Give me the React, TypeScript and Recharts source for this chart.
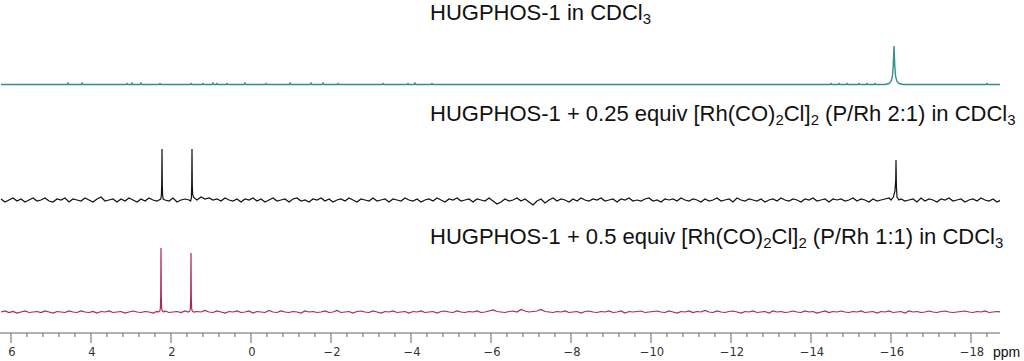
import React from "react";
import { LineChart, Line, XAxis, YAxis } from "recharts";

// chemical shift grid for the noisy baselines (ppm), 0.1 ppm apart
const GRID_START = 6.25;
const GRID_STEP = 0.1;

// baseline noise (intensity units ~ px)
const blackNoise = [
  1, -2, 0, 2, -1, 1, -2, 0, 2, -1,
  0, 2, -1, -2, 1, 0, 2, -2, 1, 0,
  -1, 2, 0, -2, 1, 3, -1, 0, 1, -2,
  1, -1, 2, 0, -2, 1, -1, 2, 0, -1,
  1, 0, -1, 2, -2, 0, 1, -1, -2, 0,
  3, 1, 2, 0, 1, -1, 2, 0, -1, 1,
  -2, 1, 0, 2, -1, 1, -2, 0, 2, -1,
  0, 1, -2, 1, 2, -1, 0, -2, 1, 0,
  2, -1, 1, -2, 0, 1, -1, 2, 0, -2,
  1, 0, -1, 2, -1, 0, 1, -2, 1, 0,
  -1, 2, 0, -1, 1, -2, 0, 1, -1, 2,
  0, -2, 1, 0, 2, -1, 0, 1, -2, 1,
  0, -1, 2, -1, -4, -2, 1, -1, 0, 2,
  -1, 1, -2, -5, -1, 1, -3, 0, 2, -1,
  1, 0, -2, 1, -1, 2, 0, -1, 1, 0,
  2, -1, 0, 1, -2, 1, 0, 2, -1, 0,
  -1, 1, 2, -1, 0, -2, 1, 0, 1, -1,
  2, 0, -1, 1, 0, -2, 1, -1, 0, 2,
  -1, 0, 1, -2, 2, 0, -1, 1, 0, -1,
  1, -2, 0, 1, -1, 2, 0, -1, 1, 0,
  -2, 1, 0, 2, -1, 0, 1, -2, 1, 0,
  1, -1, 0, 2, -1, 1, 0, -2, 1, -1,
  0, 1, 2, -1, 0, 1, -1, 0, 1, -2,
  2, -1, 1, 0, -2, 1, 0, 2, -1, 0,
  1, -2, 0, 1, -1, 2, 0, -1, 1, -2, 0,
];

const redNoise = [
  0, 1, -0.5, 0.5, -1, 0, 1, -0.5, 0, 0.5,
  -0.5, 1, 0, -1, 0.5, 0, -0.5, 1, 0, -0.5,
  1, 0, -0.5, 0.5, -1, 0.5, 0, 1, -0.5, 0,
  0.5, -1, 0, 1, 0, -0.5, 0.5, 0, -1, 0.5,
  0, 1, -0.5, 0, 0.5, -0.5, 1, 0, -1, 0.5,
  0, 1.5, 0, -0.5, 1, 0, -1, 0.5, 0, 1,
  -0.5, 0, 1, -1, 0.5, 0, -0.5, 1.5, 0, -0.5,
  1, 0, -0.5, 0.5, 0, -1, 1, 0, 0.5, -0.5,
  0, 1, -0.5, 0, 1.5, -0.5, 0, 0.5, -1, 0.5,
  1, 0, -0.5, 1, 0, -1, 0.5, 0, 1, -0.5,
  0, 0.5, -1, 0.5, 0, 1, -0.5, 0, 0.5, -1,
  0.5, 1, 0, -0.5, 1, 0, -0.5, 0.5, 0, 1,
  -0.5, 0, 1, 2, 0.5, 0, -0.5, 0.5, 1, 0,
  2.5, 1, 0, 0.5, 1, 2.5, 0.5, 0, -0.5, 0.5,
  0, 1, -0.5, 0, 0.5, -1, 0.5, 1, 0, -0.5,
  0.5, 0, 1, -0.5, 0, 1, -1, 0.5, 0, 0.5,
  1, -0.5, 0, 0.5, 1, 0, -0.5, 1, 0, -1,
  0.5, 0, 1, -0.5, 0.5, 0, 1.5, 0, -0.5, 1,
  0, -0.5, 0.5, 1, 0, -1, 0.5, 0, 1, -0.5,
  0, 0.5, -1, 1, 0, 0.5, -0.5, 0, 1, 0,
  -0.5, 1, 0, 0.5, -1, 0, 1, -0.5, 0.5, 0,
  1, 0, -0.5, 0.5, 0, 1, -0.5, 0, 0.5, -1,
  0.5, 0, 1, -0.5, 0, 0.5, -1, 1, 0, 0.5,
  -0.5, 0, 1, 0, -0.5, 0.5, 1, 0, -0.5, 0,
  0.5, 1, 0, -0.5, 0.5, 0, 1, -0.5, 0, 0.5, 0,
];

// the free ligand trace is nearly flat: a few tiny spikes [ppm, height]
const tealSpikes: [number, number][] = [
  [4.575, 1.5], [4.225, 1.5], [3.1, 1], [2.975, 1.5], [2.75, 1.5], [2.275, 1],
  [1.5, 1], [1.2, 1], [0.95, 1.5], [0.85, 1], [0.6, 1], [0.15, 1.5],
  [-0.375, 1], [-0.975, 1.5], [-1.5, 1.5], [-1.8, 1.5], [-2.175, 1],
  [-3.3, 1], [-3.925, 1], [-4.1, 1.5], [-4.525, 1],
  [-14.5, 1], [-14.7, 1], [-14.9, 1], [-15.2, 1], [-15.4, 1], [-15.6, 1],
  [-18.4, 1],
];

// peaks, one array per signal: [ppm, intensity]
const tealPeak: [number, number][] = [
  [-15.85, 0], [-15.95, 1], [-16.0, 3], [-16.035, 8], [-16.055, 18],
  [-16.075, 38.5], [-16.095, 18], [-16.115, 8], [-16.15, 3], [-16.2, 1], [-16.3, 0],
];
const blackPeakA: [number, number][] = [
  [2.3, 0], [2.255, 1], [2.24, 5], [2.232, 16], [2.225, 51], [2.218, 16], [2.21, 5], [2.195, 1], [2.15, 0],
];
const blackPeakB: [number, number][] = [
  [1.55, 0], [1.51, -1], [1.49, 2], [1.482, 16], [1.475, 51], [1.468, 16], [1.46, 6], [1.44, 3], [1.4, 1.5],
];
const blackPeakC: [number, number][] = [
  [-16.0, 0], [-16.06, 3], [-16.1, 9], [-16.118, 20], [-16.125, 40], [-16.135, 14], [-16.15, 3], [-16.2, 0],
];
const redPeakA: [number, number][] = [
  [2.32, 0], [2.28, 1], [2.265, 4], [2.257, 16], [2.25, 64], [2.243, 16], [2.235, 4], [2.22, 1], [2.18, 0],
];
const redPeakB: [number, number][] = [
  [1.57, 0], [1.53, 1], [1.515, 4], [1.507, 15], [1.5, 59], [1.493, 15], [1.485, 4], [1.47, 1], [1.43, 0],
];

// axis
const X_MIN = -18.725;
const X_MAX = 6.275;
const majorTicks = [6, 4, 2, 0, -2, -4, -6, -8, -10, -12, -14, -16, -18];
const minorTicks = [
  5.6, 5.2, 4.8, 4.4, 3.6, 3.2, 2.8, 2.4, 1.6, 1.2, 0.8, 0.4,
  -0.4, -0.8, -1.2, -1.6, -2.4, -2.8, -3.2, -3.6, -4.4, -4.8, -5.2, -5.6,
  -6.4, -6.8, -7.2, -7.6, -8.4, -8.8, -9.2, -9.6, -10.4, -10.8, -11.2, -11.6,
  -12.4, -12.8, -13.2, -13.6, -14.4, -14.8, -15.2, -15.6, -16.4, -16.8, -17.2, -17.6, -18.4,
];

const H = 361;
const AXIS_H = 28;
const PLOT_H = H - AXIS_H;

// vertical stacking of the traces (px above axis line)
const OFFSET_TEAL = 248.5;
const OFFSET_BLACK = 133;
const OFFSET_RED = 21;

type Pt = { ppm: number; v: number };

function buildTrace(noise: number[], peaks: [number, number][][], offset: number): Pt[] {
  const pts: Pt[] = [];
  const inPeak = (p: number) =>
    peaks.some((pk) => p <= pk[0][0] && p >= pk[pk.length - 1][0]);
  noise.forEach((n, i) => {
    const ppm = GRID_START - i * GRID_STEP;
    if (!inPeak(ppm)) pts.push({ ppm, v: n + offset });
  });
  peaks.forEach((pk) => pk.forEach(([ppm, y]) => pts.push({ ppm, v: y + offset })));
  return pts.sort((a, b) => b.ppm - a.ppm);
}

function buildTeal(): Pt[] {
  const pts: Pt[] = [
    { ppm: GRID_START, v: OFFSET_TEAL },
    { ppm: -18.75, v: OFFSET_TEAL },
  ];
  tealSpikes.forEach(([x, h]) => {
    pts.push({ ppm: x + 0.02, v: OFFSET_TEAL }, { ppm: x, v: h + OFFSET_TEAL }, { ppm: x - 0.02, v: OFFSET_TEAL });
  });
  tealPeak.forEach(([ppm, y]) => pts.push({ ppm, v: y + OFFSET_TEAL }));
  return pts.sort((a, b) => b.ppm - a.ppm);
}

const tealData = buildTeal();
const blackData = buildTrace(blackNoise, [blackPeakA, blackPeakB, blackPeakC], OFFSET_BLACK);
const redData = buildTrace(redNoise, [redPeakA, redPeakB], OFFSET_RED);

const majorSet = new Set(majorTicks);

function PpmTick(props: any) {
  const { x, y, payload } = props;
  const val = payload.value as number;
  const major = majorSet.has(val);
  return (
    <g>
      <line x1={x} x2={x} y1={y} y2={y + (major ? 10 : 4)} stroke="#666" strokeWidth={1} />
      {major && (
        <text
          x={x + 1}
          y={y + 23}
          textAnchor="middle"
          fontSize={11.5}
          fontFamily="DejaVu Sans, sans-serif"
          fill="#333"
        >
          {val < 0 ? `\u2212${Math.abs(val)}` : val}
        </text>
      )}
    </g>
  );
}

const labelStyle: React.CSSProperties = {
  position: "absolute",
  left: 430,
  fontFamily: "'Liberation Sans', Arial, sans-serif",
  fontSize: 22,
  lineHeight: "24px",
  color: "#111",
  whiteSpace: "nowrap",
};

const subStyle: React.CSSProperties = {
  fontSize: "0.68em",
  verticalAlign: "baseline",
  position: "relative",
  top: 4,
};

const Sub = ({ children }: { children: React.ReactNode }) => <span style={subStyle}>{children}</span>;

export default function App() {
  return (
    <div style={{ position: "fixed", left: 0, top: 0, width: 1024, height: H, background: "#fff" }}>
      <LineChart width={1024} height={H} margin={{ top: 0, right: 24, bottom: 0, left: 0 }}>
        <XAxis
          type="number"
          dataKey="ppm"
          domain={[X_MIN, X_MAX]}
          reversed
          allowDataOverflow
          ticks={[...majorTicks, ...minorTicks]}
          interval={0}
          tickSize={0}
          tickMargin={0}
          tickLine={false}
          axisLine={{ stroke: "#666", strokeWidth: 1.2 }}
          height={AXIS_H}
          tick={<PpmTick />}
        />
        <YAxis type="number" domain={[0, PLOT_H]} hide allowDataOverflow />
        <Line data={tealData} dataKey="v" type="linear" stroke="#338f8a" strokeWidth={1.4} dot={false} activeDot={false} isAnimationActive={false} />
        <Line data={blackData} dataKey="v" type="linear" stroke="#111111" strokeWidth={1.2} dot={false} activeDot={false} isAnimationActive={false} />
        <Line data={redData} dataKey="v" type="linear" stroke="#ac2852" strokeWidth={1.2} dot={false} activeDot={false} isAnimationActive={false} />
      </LineChart>
      <div style={{ ...labelStyle, top: 1 }}>
        HUGPHOS-1 in CDCl<Sub>3</Sub>
      </div>
      <div style={{ ...labelStyle, top: 102 }}>
        HUGPHOS-1 + 0.25 equiv [Rh(CO)<Sub>2</Sub>Cl]<Sub>2</Sub> (P/Rh 2:1) in CDCl<Sub>3</Sub>
      </div>
      <div style={{ ...labelStyle, top: 225 }}>
        HUGPHOS-1 + 0.5 equiv [Rh(CO)<Sub>2</Sub>Cl]<Sub>2</Sub> (P/Rh 1:1) in CDCl<Sub>3</Sub>
      </div>
      <div
        style={{
          position: "absolute",
          left: 993,
          top: 344,
          fontFamily: "'Liberation Sans', Arial, sans-serif",
          fontSize: 14,
          lineHeight: "16px",
          color: "#111",
        }}
      >
        ppm
      </div>
    </div>
  );
}
